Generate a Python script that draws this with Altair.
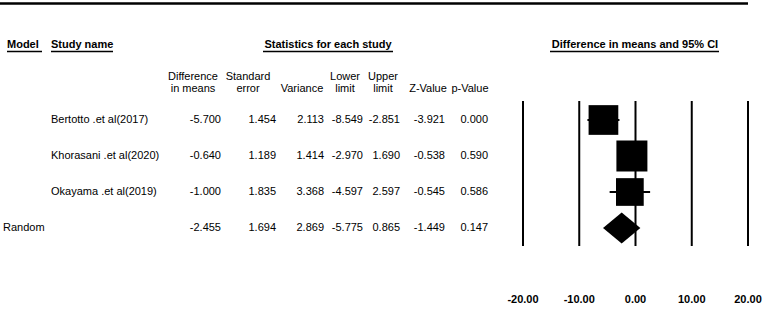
import altair as alt
import pandas as pd

# ---------------- data ----------------
studies = ["Bertotto .et al(2017)", "Khorasani .et al(2020)", "Okayama .et al(2019)"]
diff = [-5.700, -0.640, -1.000]
se = [1.454, 1.189, 1.835]
variance = [2.113, 1.414, 3.368]
lower = [-8.549, -2.970, -4.597]
upper = [-2.851, 1.690, 2.597]
zval = [-3.921, -0.538, -0.545]
pval = [0.000, 0.590, 0.586]
weights = [33.8, 36.8, 29.4]  # relative random-effects weights (%)

pooled_model = "Random"
pooled_diff = -2.455
pooled_se = 1.694
pooled_var = 2.869
pooled_lower = -5.775
pooled_upper = 0.865
pooled_z = -1.449
pooled_p = 0.147

ticks = [-20, -10, 0, 10, 20]

# ---------------- tables ----------------
n = len(studies)
fmt = lambda v: f"{v:.3f}"
table = pd.DataFrame({
    "row": list(range(n + 1)),
    "model": [""] * n + [pooled_model],
    "study": studies + [""],
    "diff": [fmt(v) for v in diff + [pooled_diff]],
    "se": [fmt(v) for v in se + [pooled_se]],
    "var": [fmt(v) for v in variance + [pooled_var]],
    "lower": [fmt(v) for v in lower + [pooled_lower]],
    "upper": [fmt(v) for v in upper + [pooled_upper]],
    "z": [fmt(v) for v in zval + [pooled_z]],
    "p": [fmt(v) for v in pval + [pooled_p]],
})
study_df = pd.DataFrame({
    "row": list(range(n)), "est": diff, "lo": lower, "hi": upper, "w": weights,
})
pooled_row = n
half = 0.43
diamond_df = pd.DataFrame({
    "x": [pooled_lower, pooled_diff, pooled_upper],
    "y": [pooled_row, pooled_row - half, pooled_row],
    "y2": [pooled_row, pooled_row + half, pooled_row],
})
tick_df = pd.DataFrame({"t": ticks, "lab": [f"{t:.2f}" for t in ticks]})
dummy = pd.DataFrame({"a": [0]})

FONT = "Liberation Sans"
xs = alt.Scale(domain=[-20, 20], range=[523, 748])
ys = alt.Scale(domain=[0, n], range=[120, 228])

layers = []

# top rule
layers.append(alt.Chart(dummy).mark_rule(color="black", strokeWidth=2.5).encode(
    x=alt.value(0), x2=alt.value(748), y=alt.value(3.5)))

# bold headers + underlines
headers = [("Model", 7, "left", 7, 42),
           ("Study name", 51, "left", 51, 113),
           ("Statistics for each study", 328, "center", 263, 393),
           ("Difference in means and 95% CI", 635, "center", 550, 719)]
for txt, x, al, u1, u2 in headers:
    layers.append(alt.Chart(dummy).mark_text(
        text=txt, align=al, baseline="middle", font=FONT, fontSize=11,
        fontWeight="bold", color="black").encode(x=alt.value(x), y=alt.value(45)))
    layers.append(alt.Chart(dummy).mark_rule(color="black", strokeWidth=1.3).encode(
        x=alt.value(u1), x2=alt.value(u2), y=alt.value(51.5)))

# sub headers
subs = [(["Difference", "in means"], 193), (["Standard", "error"], 248),
        (["", "Variance"], 302), (["Lower", "limit"], 345), (["Upper", "limit"], 383),
        (["", "Z-Value"], 428), (["", "p-Value"], 470)]
for lines, x in subs:
    for i, ln in enumerate(lines):
        if ln:
            layers.append(alt.Chart(dummy).mark_text(
                text=ln, align="center", baseline="middle", font=FONT, fontSize=11,
                color="black").encode(x=alt.value(x), y=alt.value(77 + 12 * i)))

# table columns
cols = [("model", 3, "left"), ("study", 51, "left"), ("diff", 221, "right"),
        ("se", 276, "right"), ("var", 324, "right"), ("lower", 363, "right"),
        ("upper", 400, "right"), ("z", 445, "right"), ("p", 488, "right")]
for key, x, al in cols:
    layers.append(alt.Chart(table).mark_text(
        align=al, baseline="middle", font=FONT, fontSize=11, color="black").encode(
        x=alt.value(x), y=alt.Y("row:Q", scale=ys, axis=None), text=f"{key}:N"))

# vertical reference lines
layers.append(alt.Chart(tick_df).mark_rule(color="black", strokeWidth=2).encode(
    x=alt.X("t:Q", scale=xs, axis=None), y=alt.value(101), y2=alt.value(246)))

# axis labels
layers.append(alt.Chart(tick_df).mark_text(
    baseline="middle", align="center", font=FONT, fontSize=11, fontWeight="bold",
    color="black").encode(x=alt.X("t:Q", scale=xs, axis=None), y=alt.value(300),
                          text="lab:N"))

# CI lines
layers.append(alt.Chart(study_df).mark_rule(color="black", strokeWidth=2).encode(
    x=alt.X("lo:Q", scale=xs, axis=None), x2="hi:Q",
    y=alt.Y("row:Q", scale=ys, axis=None)))

# squares
layers.append(alt.Chart(study_df).mark_square(color="black", filled=True, opacity=1).encode(
    x=alt.X("est:Q", scale=xs, axis=None),
    y=alt.Y("row:Q", scale=ys, axis=None),
    size=alt.Size("w:Q", scale=alt.Scale(type="linear", domain=[0, 36.8], range=[0, 961]),
                  legend=None)))

# diamond
layers.append(alt.Chart(diamond_df).mark_area(color="black", orient="vertical", opacity=1).encode(
    x=alt.X("x:Q", scale=xs, axis=None),
    y=alt.Y("y:Q", scale=ys, axis=None), y2="y2:Q"))

chart = alt.layer(*layers).properties(
    width=764, height=311, padding=0, autosize=alt.AutoSizeParams(type="none"),
    background="white",
).configure_view(stroke=None)

chart.save("out.html", embed_options={"renderer": "svg", "actions": False})
